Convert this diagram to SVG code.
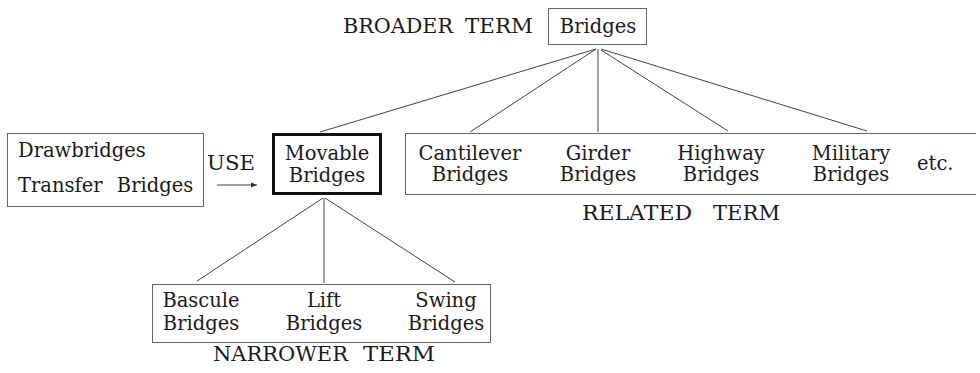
<svg xmlns="http://www.w3.org/2000/svg" width="980" height="373" viewBox="0 0 980 373">
<style>
text{font-family:"DejaVu Serif","Liberation Serif",serif;font-size:19.5px;fill:#1a1a1a}
.c{text-anchor:middle}
.box{fill:none;stroke:#666;stroke-width:1}
.thick{fill:none;stroke:#111;stroke-width:3}
.ln{stroke:#444;stroke-width:1;fill:none}
</style>
<rect width="980" height="373" fill="#fff"/>
<text x="343" y="33" textLength="110" lengthAdjust="spacingAndGlyphs">BROADER</text>
<text x="465" y="33" textLength="68" lengthAdjust="spacingAndGlyphs">TERM</text>
<g id="bridges">
<rect class="box" x="548.5" y="8.5" width="98" height="36"/>
<text class="c" x="598" y="33">Bridges</text>
</g>
<g id="lead-in">
<rect class="box" x="7.5" y="133.5" width="196" height="73"/>
<text x="18" y="157">Drawbridges</text>
<text x="18" y="192" word-spacing="8">Transfer Bridges</text>
</g>
<g id="use">
<text x="207" y="170" textLength="48" lengthAdjust="spacingAndGlyphs">USE</text>
</g>
<g id="movable">
<rect class="thick" x="273.5" y="134.5" width="107" height="59"/>
<text class="c" x="327" y="160">Movable</text>
<text class="c" x="327" y="182">Bridges</text>
</g>
<g id="related">
<path class="box" d="M976,133.5 H405.5 V194.5 H976"/>
<text class="c" x="470" y="160">Cantilever</text>
<text class="c" x="470" y="181">Bridges</text>
<text class="c" x="598" y="160">Girder</text>
<text class="c" x="598" y="181">Bridges</text>
<text class="c" x="721" y="160">Highway</text>
<text class="c" x="721" y="181">Bridges</text>
<text class="c" x="851" y="160">Military</text>
<text class="c" x="851" y="181">Bridges</text>
<text x="917" y="170">etc.</text>
<text x="582" y="220" textLength="110" lengthAdjust="spacingAndGlyphs">RELATED</text>
<text x="713" y="220" textLength="67" lengthAdjust="spacingAndGlyphs">TERM</text>
</g>
<g id="narrower">
<rect class="box" x="152.5" y="284.5" width="338" height="58"/>
<text class="c" x="201" y="307">Bascule</text>
<text class="c" x="201" y="330">Bridges</text>
<text class="c" x="324" y="307">Lift</text>
<text class="c" x="324" y="330">Bridges</text>
<text class="c" x="446" y="307">Swing</text>
<text class="c" x="446" y="330">Bridges</text>
<text x="213" y="361" textLength="135" lengthAdjust="spacingAndGlyphs">NARROWER</text>
<text x="363" y="361" textLength="72" lengthAdjust="spacingAndGlyphs">TERM</text>
</g>
<g id="connectors">
<line class="ln" x1="596" y1="49" x2="320" y2="132"/>
<line class="ln" x1="596" y1="49" x2="470" y2="132"/>
<line class="ln" x1="598" y1="49" x2="598" y2="132"/>
<line class="ln" x1="601" y1="50" x2="728" y2="131"/>
<line class="ln" x1="601" y1="49" x2="867" y2="131"/>
<line class="ln" x1="217" y1="185" x2="257" y2="185"/>
<path d="M257,185 l-6,-2.5 v5 z" fill="#333"/>
<line class="ln" x1="323" y1="198" x2="197" y2="281"/>
<line class="ln" x1="324" y1="198" x2="324" y2="283"/>
<line class="ln" x1="325" y1="198" x2="455" y2="282"/>
</g>
</svg>
